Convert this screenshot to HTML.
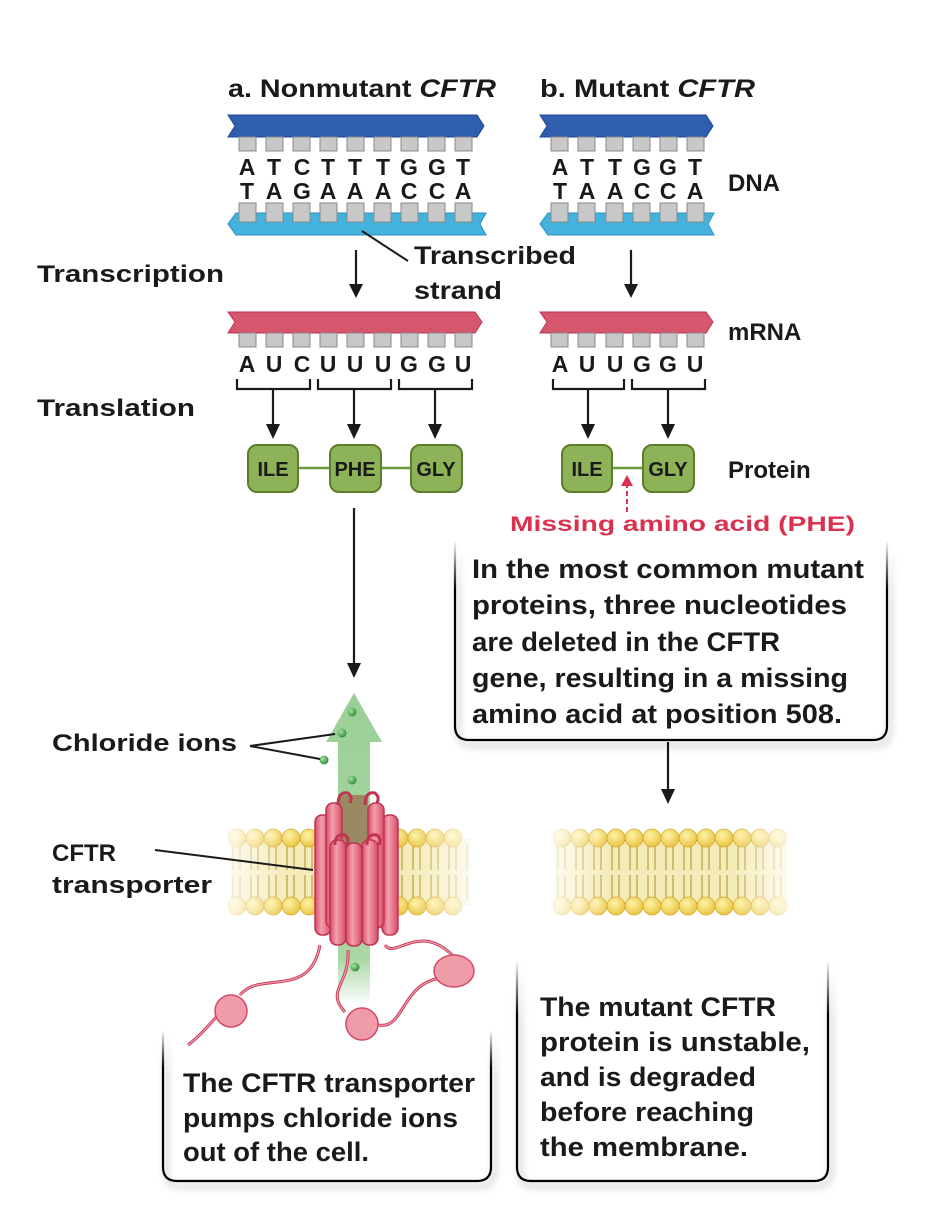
<!DOCTYPE html>
<html><head><meta charset="utf-8"><style>
html,body{margin:0;padding:0;background:#fff}
svg{display:block}
text{font-family:"Liberation Sans",sans-serif;font-weight:bold;fill:#1a1a1a}
</style></head><body>
<svg width="933" height="1219" viewBox="0 0 933 1219" xmlns="http://www.w3.org/2000/svg">
<defs>
<linearGradient id="gsh" x1="0" y1="0" x2="0" y2="1"><stop offset="0" stop-color="#000" stop-opacity="0"/><stop offset="0.25" stop-color="#000" stop-opacity="1"/></linearGradient>
<linearGradient id="grn" x1="0" y1="0" x2="0" y2="1"><stop offset="0" stop-color="#9ccf98"/><stop offset="0.85" stop-color="#a8d6a4"/><stop offset="1" stop-color="#fff"/></linearGradient>
<linearGradient id="memfadeL" x1="0" y1="0" x2="1" y2="0"><stop offset="0" stop-color="#fff" stop-opacity="0.85"/><stop offset="0.25" stop-color="#fff" stop-opacity="0"/><stop offset="0.75" stop-color="#fff" stop-opacity="0"/><stop offset="1" stop-color="#fff" stop-opacity="0.85"/></linearGradient>
<radialGradient id="head" cx="0.4" cy="0.35" r="0.7"><stop offset="0" stop-color="#fff3a8"/><stop offset="1" stop-color="#e8c23c"/></radialGradient>
<radialGradient id="ion" cx="0.35" cy="0.35" r="0.7"><stop offset="0" stop-color="#a9e39e"/><stop offset="1" stop-color="#2c8a3a"/></radialGradient>
<linearGradient id="cyl" x1="0" y1="0" x2="1" y2="0"><stop offset="0" stop-color="#d64a66"/><stop offset="0.4" stop-color="#f4a0ae"/><stop offset="1" stop-color="#d44c68"/></linearGradient>
</defs>

<!-- Titles -->
<text x="228" y="97" font-size="25" textLength="268" lengthAdjust="spacingAndGlyphs">a.  Nonmutant <tspan font-style="italic">CFTR</tspan></text>
<text x="540" y="97" font-size="25" textLength="215" lengthAdjust="spacingAndGlyphs">b.  Mutant <tspan font-style="italic">CFTR</tspan></text>

<!-- DNA -->
<path d="M228,115 L477,115 L484,126 L477,137 L228,137 L235,126 Z" fill="#2f5eae" stroke="#1f4690"/>
<path d="M540,115 L706,115 L713,126 L706,137 L540,137 L547,126 Z" fill="#2f5eae" stroke="#1f4690"/>
<g fill="#c8c8c8" stroke="#888">
<rect x="239" y="137" width="17" height="14"/><rect x="266" y="137" width="17" height="14"/><rect x="293" y="137" width="17" height="14"/><rect x="320" y="137" width="17" height="14"/><rect x="347" y="137" width="17" height="14"/><rect x="374" y="137" width="17" height="14"/><rect x="401" y="137" width="17" height="14"/><rect x="428" y="137" width="17" height="14"/><rect x="455" y="137" width="17" height="14"/>
<rect x="551" y="137" width="17" height="14"/><rect x="578" y="137" width="17" height="14"/><rect x="606" y="137" width="17" height="14"/><rect x="633" y="137" width="17" height="14"/><rect x="660" y="137" width="17" height="14"/><rect x="687" y="137" width="17" height="14"/>
</g>
<path d="M236,213 L486,213 L480,224 L486,235 L236,235 L228,224 Z" fill="#43b3dd" stroke="#2c8ec4"/>
<path d="M548,213 L714,213 L708,224 L714,235 L548,235 L540,224 Z" fill="#43b3dd" stroke="#2c8ec4"/>
<g fill="#c8c8c8" stroke="#888">
<rect x="239" y="203" width="17" height="19"/><rect x="266" y="203" width="17" height="19"/><rect x="293" y="203" width="17" height="19"/><rect x="320" y="203" width="17" height="19"/><rect x="347" y="203" width="17" height="19"/><rect x="374" y="203" width="17" height="19"/><rect x="401" y="203" width="17" height="19"/><rect x="428" y="203" width="17" height="19"/><rect x="455" y="203" width="17" height="19"/>
<rect x="551" y="203" width="17" height="19"/><rect x="578" y="203" width="17" height="19"/><rect x="606" y="203" width="17" height="19"/><rect x="633" y="203" width="17" height="19"/><rect x="660" y="203" width="17" height="19"/><rect x="687" y="203" width="17" height="19"/>
</g>
<g font-size="23" text-anchor="middle">
<text y="175"><tspan x="247">A</tspan><tspan x="274">T</tspan><tspan x="302">C</tspan><tspan x="328">T</tspan><tspan x="355">T</tspan><tspan x="383">T</tspan><tspan x="409">G</tspan><tspan x="437">G</tspan><tspan x="463">T</tspan></text>
<text y="199"><tspan x="247">T</tspan><tspan x="274">A</tspan><tspan x="302">G</tspan><tspan x="328">A</tspan><tspan x="355">A</tspan><tspan x="383">A</tspan><tspan x="409">C</tspan><tspan x="437">C</tspan><tspan x="463">A</tspan></text>
<text y="175"><tspan x="560">A</tspan><tspan x="587">T</tspan><tspan x="615">T</tspan><tspan x="642">G</tspan><tspan x="668">G</tspan><tspan x="695">T</tspan></text>
<text y="199"><tspan x="560">T</tspan><tspan x="587">A</tspan><tspan x="615">A</tspan><tspan x="642">C</tspan><tspan x="668">C</tspan><tspan x="695">A</tspan></text>
</g>
<text x="728" y="191" font-size="24">DNA</text>

<line x1="362" y1="231" x2="408" y2="261" stroke="#1a1a1a" stroke-width="2"/>
<text x="414" y="264" font-size="25" textLength="162" lengthAdjust="spacingAndGlyphs">Transcribed</text>
<text x="414" y="299" font-size="25" textLength="88" lengthAdjust="spacingAndGlyphs">strand</text>
<text x="37" y="282" font-size="24" textLength="187" lengthAdjust="spacingAndGlyphs">Transcription</text>
<text x="37" y="416" font-size="24" textLength="158" lengthAdjust="spacingAndGlyphs">Translation</text>

<!-- arrows -->
<g stroke="#1a1a1a" stroke-width="2.2">
<line x1="356" y1="250" x2="356" y2="290"/>
<line x1="631" y1="250" x2="631" y2="290"/>
<line x1="354" y1="508" x2="354" y2="670"/>
<line x1="668" y1="742" x2="668" y2="796"/>
</g>
<g fill="#1a1a1a">
<path d="M349,284 L356,298 L363,284 Z"/>
<path d="M624,284 L631,298 L638,284 Z"/>
<path d="M347,663 L354,678 L361,663 Z"/>
<path d="M661,789 L668,804 L675,789 Z"/>
</g>

<!-- mRNA -->
<path d="M228,312 L475,312 L482,322 L475,333 L228,333 L235,322 Z" fill="#d6566d" stroke="#b83450"/>
<path d="M540,312 L706,312 L713,322 L706,333 L540,333 L547,322 Z" fill="#d6566d" stroke="#b83450"/>
<g fill="#c8c8c8" stroke="#888">
<rect x="239" y="333" width="17" height="14"/><rect x="266" y="333" width="17" height="14"/><rect x="293" y="333" width="17" height="14"/><rect x="320" y="333" width="17" height="14"/><rect x="347" y="333" width="17" height="14"/><rect x="374" y="333" width="17" height="14"/><rect x="401" y="333" width="17" height="14"/><rect x="428" y="333" width="17" height="14"/><rect x="455" y="333" width="17" height="14"/>
<rect x="551" y="333" width="17" height="14"/><rect x="578" y="333" width="17" height="14"/><rect x="606" y="333" width="17" height="14"/><rect x="633" y="333" width="17" height="14"/><rect x="660" y="333" width="17" height="14"/><rect x="687" y="333" width="17" height="14"/>
</g>
<g font-size="23" text-anchor="middle">
<text y="372"><tspan x="247">A</tspan><tspan x="274">U</tspan><tspan x="302">C</tspan><tspan x="328">U</tspan><tspan x="355">U</tspan><tspan x="383">U</tspan><tspan x="409">G</tspan><tspan x="437">G</tspan><tspan x="463">U</tspan></text>
<text y="372"><tspan x="560">A</tspan><tspan x="587">U</tspan><tspan x="615">U</tspan><tspan x="642">G</tspan><tspan x="668">G</tspan><tspan x="695">U</tspan></text>
</g>
<text x="728" y="340" font-size="24">mRNA</text>

<!-- brackets -->
<g stroke="#1a1a1a" stroke-width="2.2" fill="none">
<path d="M237,379 V389 H310 V379"/><path d="M318,379 V389 H391 V379"/><path d="M399,379 V389 H472 V379"/>
<path d="M553,379 V389 H624 V379"/><path d="M632,379 V389 H705 V379"/>
<line x1="273" y1="389" x2="273" y2="430"/>
<line x1="354" y1="389" x2="354" y2="430"/>
<line x1="435" y1="389" x2="435" y2="430"/>
<line x1="588" y1="389" x2="588" y2="430"/>
<line x1="668" y1="389" x2="668" y2="430"/>
</g>
<g fill="#1a1a1a">
<path d="M266,424 L273,439 L280,424 Z"/><path d="M347,424 L354,439 L361,424 Z"/><path d="M428,424 L435,439 L442,424 Z"/>
<path d="M581,424 L588,439 L595,424 Z"/><path d="M661,424 L668,439 L675,424 Z"/>
</g>

<!-- protein -->
<g stroke="#6d9a3c" stroke-width="2.5"><line x1="298" y1="468" x2="330" y2="468"/><line x1="381" y1="468" x2="411" y2="468"/><line x1="612" y1="468" x2="643" y2="468"/></g>
<g fill="#8eb257" stroke="#5c7e2c" stroke-width="2">
<rect x="248" y="445" width="50" height="47" rx="9"/><rect x="330" y="445" width="51" height="47" rx="9"/><rect x="411" y="445" width="51" height="47" rx="9"/>
<rect x="562" y="445" width="50" height="47" rx="9"/><rect x="643" y="445" width="51" height="47" rx="9"/>
</g>
<g font-size="20" text-anchor="middle">
<text x="273" y="476">ILE</text><text x="355" y="476">PHE</text><text x="436" y="476">GLY</text>
<text x="587" y="476">ILE</text><text x="668" y="476">GLY</text>
</g>
<text x="728" y="478" font-size="24">Protein</text>
<line x1="627" y1="512" x2="627" y2="486" stroke="#d8324e" stroke-width="2" stroke-dasharray="5,3"/>
<path d="M621,486 L627,475 L633,486 Z" fill="#d8324e"/>
<text x="510" y="531" font-size="21" style="fill:#d8324e" textLength="345" lengthAdjust="spacingAndGlyphs">Missing amino acid (PHE)</text>

<!-- boxes -->
<g fill="none" stroke-width="2.2">
<path d="M455,540 V726 Q455,740 469,740 H873 Q887,740 887,726 V540" stroke="url(#gsh)" filter="drop-shadow(3px 5px 4px rgba(0,0,0,0.35))"/>
<path d="M163,1030 V1167 Q163,1181 177,1181 H477 Q491,1181 491,1167 V1030" stroke="url(#gsh)" filter="drop-shadow(3px 5px 4px rgba(0,0,0,0.35))"/>
<path d="M517,960 V1167 Q517,1181 531,1181 H814 Q828,1181 828,1167 V960" stroke="url(#gsh)" filter="drop-shadow(3px 5px 4px rgba(0,0,0,0.35))"/>
</g>
<g font-size="27">
<text x="472" y="578" textLength="392" lengthAdjust="spacingAndGlyphs">In the most common mutant</text>
<text x="472" y="614" textLength="375" lengthAdjust="spacingAndGlyphs">proteins, three nucleotides</text>
<text x="472" y="651" textLength="308" lengthAdjust="spacingAndGlyphs">are deleted in the CFTR</text>
<text x="472" y="687" textLength="376" lengthAdjust="spacingAndGlyphs">gene, resulting in a missing</text>
<text x="472" y="723" textLength="370" lengthAdjust="spacingAndGlyphs">amino acid at position 508.</text>
</g>
<g font-size="27">
<text x="183" y="1092" textLength="292" lengthAdjust="spacingAndGlyphs">The CFTR transporter</text>
<text x="183" y="1127" textLength="275" lengthAdjust="spacingAndGlyphs">pumps chloride ions</text>
<text x="183" y="1161" textLength="186" lengthAdjust="spacingAndGlyphs">out of the cell.</text>
<text x="540" y="1016" textLength="236" lengthAdjust="spacingAndGlyphs">The mutant CFTR</text>
<text x="540" y="1051" textLength="270" lengthAdjust="spacingAndGlyphs">protein is unstable,</text>
<text x="540" y="1086" textLength="216" lengthAdjust="spacingAndGlyphs">and is degraded</text>
<text x="540" y="1121" textLength="214" lengthAdjust="spacingAndGlyphs">before reaching</text>
<text x="540" y="1156" textLength="208" lengthAdjust="spacingAndGlyphs">the membrane.</text>
</g>

<!-- membranes -->
<g>
<rect x="230" y="838" width="240" height="68" fill="#f4ebb8"/>
<g stroke="#b9a547" stroke-width="1.3" fill="none">
<path d="M233,845 v25 M240,845 v25 M251,845 v25 M258,845 v25 M269,845 v25 M276,845 v25 M287,845 v25 M294,845 v25 M305,845 v25 M312,845 v25 M395,845 v25 M402,845 v25 M413,845 v25 M420,845 v25 M431,845 v25 M438,845 v25 M449,845 v25 M456,845 v25 M467,845 v25"/>
<path d="M233,875 v25 M240,875 v25 M251,875 v25 M258,875 v25 M269,875 v25 M276,875 v25 M287,875 v25 M294,875 v25 M305,875 v25 M312,875 v25 M395,875 v25 M402,875 v25 M413,875 v25 M420,875 v25 M431,875 v25 M438,875 v25 M449,875 v25 M456,875 v25 M467,875 v25"/>
</g>
<g fill="url(#head)" stroke="#d4ab2c" stroke-width="0.8">
<circle cx="237" cy="838" r="9"/><circle cx="255" cy="838" r="9"/><circle cx="273" cy="838" r="9"/><circle cx="291" cy="838" r="9"/><circle cx="309" cy="838" r="9"/><circle cx="399" cy="838" r="9"/><circle cx="417" cy="838" r="9"/><circle cx="435" cy="838" r="9"/><circle cx="453" cy="838" r="9"/>
<circle cx="237" cy="906" r="9"/><circle cx="255" cy="906" r="9"/><circle cx="273" cy="906" r="9"/><circle cx="291" cy="906" r="9"/><circle cx="309" cy="906" r="9"/><circle cx="399" cy="906" r="9"/><circle cx="417" cy="906" r="9"/><circle cx="435" cy="906" r="9"/><circle cx="453" cy="906" r="9"/>
</g>
<rect x="225" y="826" width="250" height="92" fill="url(#memfadeL)"/>
</g>
<g>
<rect x="555" y="838" width="232" height="68" fill="#f4ebb8"/>
<g stroke="#b9a547" stroke-width="1.3" fill="none">
<path d="M558,845 v25 M565,845 v25 M576,845 v25 M583,845 v25 M594,845 v25 M601,845 v25 M612,845 v25 M619,845 v25 M630,845 v25 M637,845 v25 M648,845 v25 M655,845 v25 M666,845 v25 M673,845 v25 M684,845 v25 M691,845 v25 M702,845 v25 M709,845 v25 M720,845 v25 M727,845 v25 M738,845 v25 M745,845 v25 M756,845 v25 M763,845 v25 M774,845 v25 M781,845 v25"/>
<path d="M558,875 v25 M565,875 v25 M576,875 v25 M583,875 v25 M594,875 v25 M601,875 v25 M612,875 v25 M619,875 v25 M630,875 v25 M637,875 v25 M648,875 v25 M655,875 v25 M666,875 v25 M673,875 v25 M684,875 v25 M691,875 v25 M702,875 v25 M709,875 v25 M720,875 v25 M727,875 v25 M738,875 v25 M745,875 v25 M756,875 v25 M763,875 v25 M774,875 v25 M781,875 v25"/>
</g>
<g fill="url(#head)" stroke="#d4ab2c" stroke-width="0.8">
<circle cx="562" cy="838" r="9"/><circle cx="580" cy="838" r="9"/><circle cx="598" cy="838" r="9"/><circle cx="616" cy="838" r="9"/><circle cx="634" cy="838" r="9"/><circle cx="652" cy="838" r="9"/><circle cx="670" cy="838" r="9"/><circle cx="688" cy="838" r="9"/><circle cx="706" cy="838" r="9"/><circle cx="724" cy="838" r="9"/><circle cx="742" cy="838" r="9"/><circle cx="760" cy="838" r="9"/><circle cx="778" cy="838" r="9"/>
<circle cx="562" cy="906" r="9"/><circle cx="580" cy="906" r="9"/><circle cx="598" cy="906" r="9"/><circle cx="616" cy="906" r="9"/><circle cx="634" cy="906" r="9"/><circle cx="652" cy="906" r="9"/><circle cx="670" cy="906" r="9"/><circle cx="688" cy="906" r="9"/><circle cx="706" cy="906" r="9"/><circle cx="724" cy="906" r="9"/><circle cx="742" cy="906" r="9"/><circle cx="760" cy="906" r="9"/><circle cx="778" cy="906" r="9"/>
</g>
<rect x="550" y="826" width="242" height="92" fill="url(#memfadeL)"/>
</g>

<!-- green arrow -->
<path d="M354,693 L382,742 L370,742 L370,1005 L338,1005 L338,742 L326,742 Z" fill="url(#grn)"/>
<g fill="url(#ion)">
<circle cx="352" cy="712" r="4.5"/><circle cx="342" cy="733" r="4.5"/><circle cx="324" cy="760" r="4.5"/><circle cx="352" cy="780" r="4.5"/><circle cx="352" cy="818" r="4.5"/><circle cx="355" cy="967" r="4.5"/>
</g>
<text x="52" y="751" font-size="24" textLength="185" lengthAdjust="spacingAndGlyphs">Chloride ions</text>
<g stroke="#1a1a1a" stroke-width="2" fill="none"><path d="M250,746 L335,734 M250,746 L320,759"/></g>

<!-- transporter -->
<g stroke="#c2334f" stroke-width="3" fill="none">
<path d="M320,945 C310,1000 260,970 240,995"/>
<path d="M218,1015 C205,1030 195,1040 188,1045"/>
<path d="M348,950 C350,985 325,990 345,1012"/>
<path d="M378,1025 C405,1030 400,985 440,978"/>
<path d="M385,945 C395,960 420,920 455,958"/>
</g>
<g stroke="#f29aab" stroke-width="1.3" fill="none">
<path d="M320,945 C310,1000 260,970 240,995"/><path d="M218,1015 C205,1030 195,1040 188,1045"/><path d="M348,950 C350,985 325,990 345,1012"/><path d="M378,1025 C405,1030 400,985 440,978"/><path d="M385,945 C395,960 420,920 455,958"/>
</g>
<g fill="#ef9ba8" stroke="#d34a66" stroke-width="1.5">
<circle cx="231" cy="1011" r="16"/><circle cx="362" cy="1024" r="16"/><ellipse cx="454" cy="971" rx="20" ry="16"/>
</g>
<rect x="338" y="795" width="30" height="60" fill="#9a8a64"/>
<g stroke="#c2334f" stroke-width="1.5" fill="url(#cyl)">
<rect x="315" y="815" width="16" height="120" rx="7"/>
<rect x="382" y="815" width="16" height="120" rx="7"/>
<rect x="326" y="803" width="16" height="125" rx="7"/>
<rect x="368" y="803" width="16" height="125" rx="7"/>
<rect x="330" y="840" width="16" height="105" rx="7"/>
<rect x="362" y="840" width="16" height="105" rx="7"/>
<rect x="346" y="843" width="16" height="103" rx="7"/>
</g>
<g stroke="#c2334f" stroke-width="3" fill="none">
<path d="M338,805 q0,-14 10,-12 q5,4 2,10"/><path d="M365,805 q0,-14 10,-12 q5,4 2,10"/>
<path d="M335,845 q0,-12 10,-10 q5,4 2,10"/><path d="M367,845 q0,-12 10,-10 q5,4 2,10"/>
</g>
<line x1="155" y1="850" x2="313" y2="870" stroke="#1a1a1a" stroke-width="2"/>
<text x="52" y="861" font-size="24">CFTR</text>
<text x="52" y="893" font-size="24" textLength="160" lengthAdjust="spacingAndGlyphs">transporter</text>
</svg>
</body></html>
